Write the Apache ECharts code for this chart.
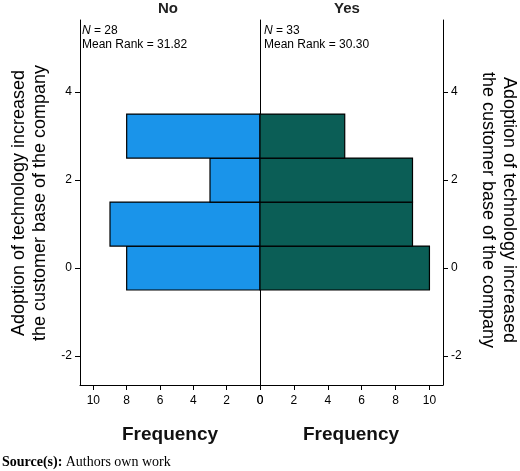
<!DOCTYPE html>
<html>
<head>
<meta charset="utf-8">
<script src="https://cdn.jsdelivr.net/npm/echarts@6/dist/echarts.min.js"></script>
<style>html,body{margin:0;padding:0;background:#fff}#main{width:520px;height:471px}</style>
</head>
<body>
<div id="main"></div>
<script>
// rank categories and frequencies per group
var ranks = [0, 1, 2, 3];
var freqNo = [8, 9, 3, 8];
var freqYes = [10, 9, 9, 5];
var yTicks = [-2, 0, 2, 4];
var xTicks = [0, 2, 4, 6, 8, 10];

var myChart = echarts.init(document.getElementById('main'));

function barRender(params, api) {
  var v = api.value(0), y = api.value(1);
  var p0 = api.coord([0, y + 0.5]);
  var p1 = api.coord([v, y - 0.5]);
  return {
    type: 'rect',
    shape: { x: Math.min(p0[0], p1[0]), y: p0[1], width: Math.abs(p1[0] - p0[0]), height: p1[1] - p0[1] },
    style: { fill: api.visual('color'), stroke: '#000', lineWidth: 1.2 }
  };
}

var yBase = {
  type: 'value', min: -2.66, max: 5.64,
  splitLine: { show: false },
  axisLine: { show: true, onZero: false, lineStyle: { color: '#000', width: 1 } },
  axisTick: { show: true, customValues: yTicks, length: 5, lineStyle: { color: '#000' } },
  axisLabel: { customValues: yTicks, color: '#000', fontSize: 12, fontFamily: 'Arial' }
};
var xBase = {
  type: 'value', min: 0, max: 10.8,
  splitLine: { show: false },
  axisLine: { show: true, onZero: false, lineStyle: { color: '#000' } },
  axisTick: { show: true, customValues: xTicks, length: 5, lineStyle: { color: '#000' } },
  axisLabel: { customValues: xTicks, color: '#000', fontSize: 12, fontFamily: 'Arial', margin: 10 }
};

myChart.setOption({
  animation: false,
  grid: [
    { left: 80, right: 260, top: 20, bottom: 86 },
    { left: 260, right: 77, top: 20, bottom: 86 }
  ],
  xAxis: [
    Object.assign({}, xBase, { gridIndex: 0, inverse: true }),
    Object.assign({}, xBase, { gridIndex: 1 })
  ],
  yAxis: [
    Object.assign({}, yBase, { gridIndex: 0, position: 'left' }),
    Object.assign({}, yBase, { gridIndex: 1, position: 'right' }),
    { type: 'value', gridIndex: 1, position: 'left', min: -2.66, max: 5.64, splitLine: { show: false },
      axisLine: { show: true, onZero: false, lineStyle: { color: '#000' } }, axisTick: { show: false }, axisLabel: { show: false } }
  ],
  series: [
    { type: 'custom', xAxisIndex: 0, yAxisIndex: 0, itemStyle: { color: '#1a94ea' },
      renderItem: barRender, data: ranks.map(function (r, i) { return [freqNo[i], r]; }) },
    { type: 'custom', xAxisIndex: 1, yAxisIndex: 1, itemStyle: { color: '#0b5e56' },
      renderItem: barRender, data: ranks.map(function (r, i) { return [freqYes[i], r]; }) }
  ],
  graphic: [
    { type: 'text', left: 158, top: 1, style: { text: 'No', font: 'bold 15px Arial', fill: '#222' } },
    { type: 'text', left: 334, top: 1, style: { text: 'Yes', font: 'bold 15px Arial', fill: '#222' } },
    { type: 'text', left: 82, top: 24, style: { rich: { i: { fontStyle: 'italic', fontSize: 12, fontFamily: 'Arial' }, n: { fontSize: 12, fontFamily: 'Arial' } },
      text: '{i|N} {n|= 28}\n{n|Mean Rank = 31.82}', lineHeight: 14, fill: '#000' } },
    { type: 'text', left: 264, top: 24, style: { rich: { i: { fontStyle: 'italic', fontSize: 12, fontFamily: 'Arial' }, n: { fontSize: 12, fontFamily: 'Arial' } },
      text: '{i|N} {n|= 33}\n{n|Mean Rank = 30.30}', lineHeight: 14, fill: '#000' } },
    { type: 'text', x: 30, y: 203, rotation: Math.PI / 2, style: { text: 'Adoption of technology increased\nthe customer base of the company',
      font: '18px Arial', fill: '#000', align: 'center', verticalAlign: 'middle', lineHeight: 21 } },
    { type: 'text', x: 498, y: 210, rotation: -Math.PI / 2, style: { text: 'Adoption of technology increased\nthe customer base of the company',
      font: '18px Arial', fill: '#000', align: 'center', verticalAlign: 'middle', lineHeight: 21 } },
    { type: 'text', x: 170, y: 435, style: { text: 'Frequency', font: 'bold 19px Arial', fill: '#111', align: 'center', verticalAlign: 'middle' } },
    { type: 'text', x: 351, y: 435, style: { text: 'Frequency', font: 'bold 19px Arial', fill: '#111', align: 'center', verticalAlign: 'middle' } },
    { type: 'text', left: 2, top: 455, style: { rich: { b: { fontWeight: 'bold', fontFamily: 'Liberation Serif', fontSize: 14 }, r: { fontFamily: 'Liberation Serif', fontSize: 14 } },
      text: '{b|Source(s):} {r|Authors own work}', fill: '#000' } }
  ]
});
</script>
</body>
</html>
